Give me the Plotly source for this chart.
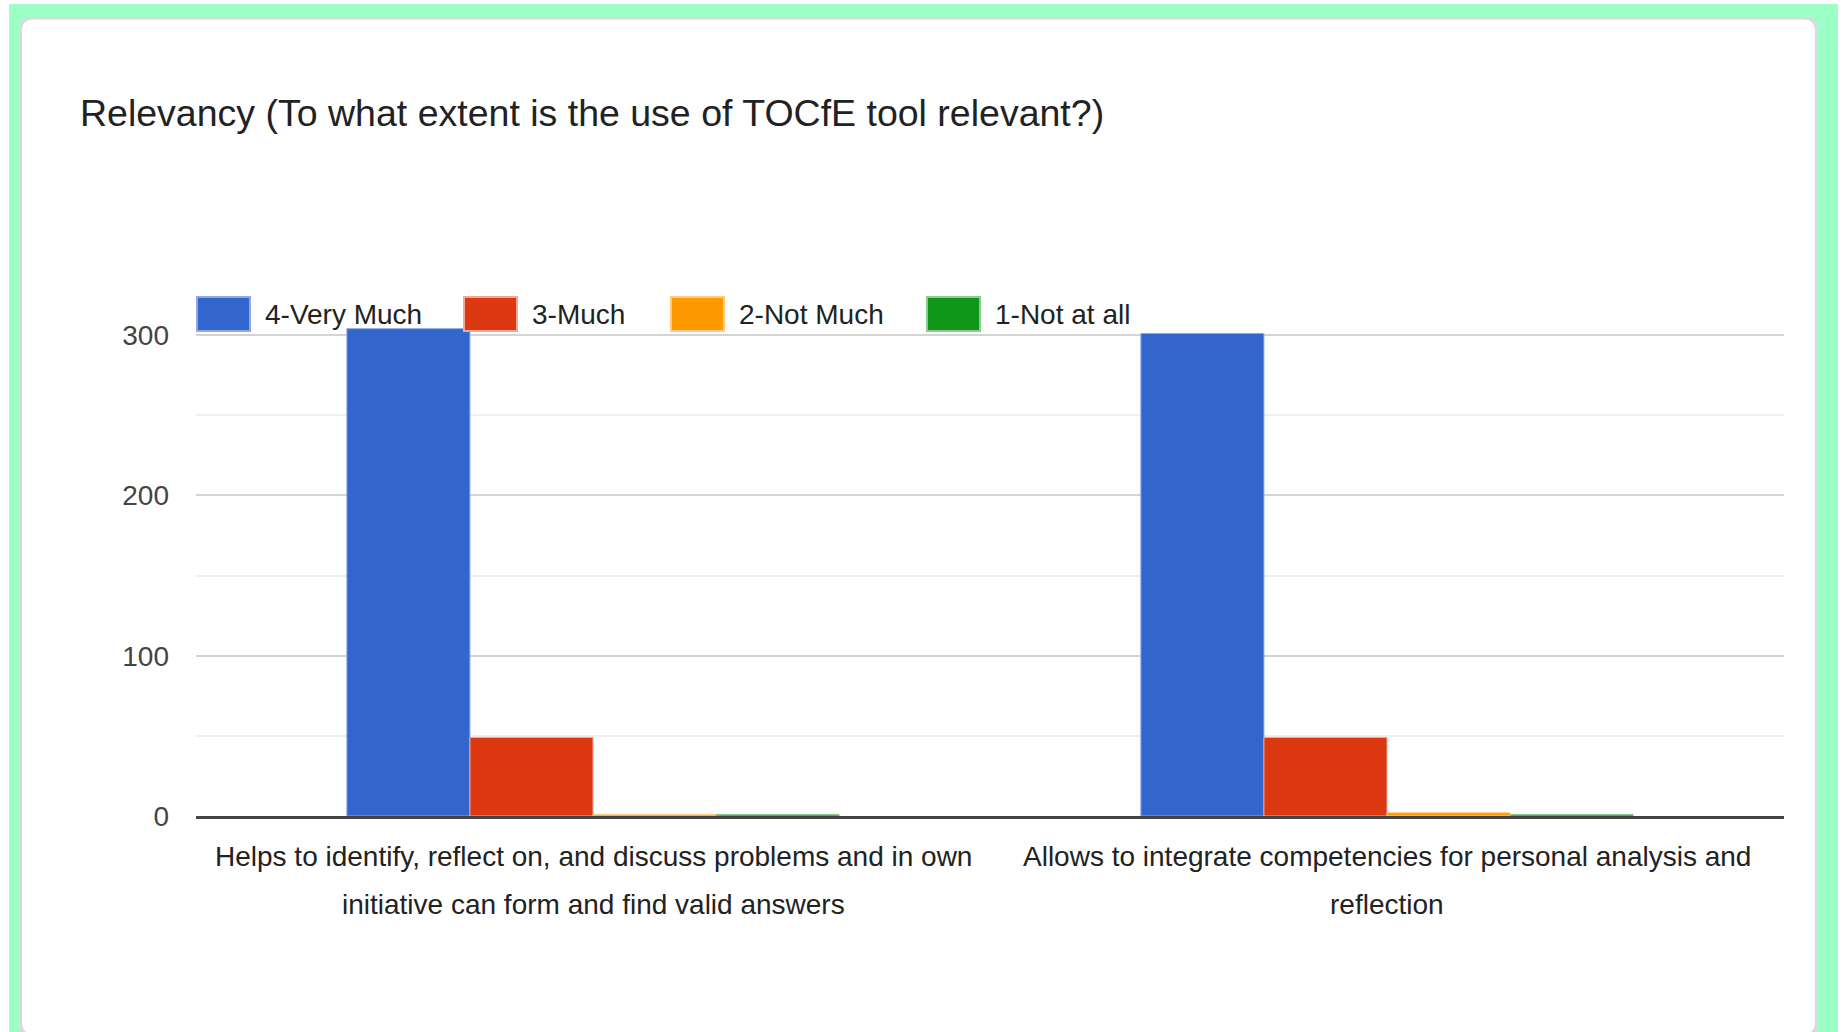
import plotly.graph_objects as go

# Survey results: relevancy of the TOCfE tool
categories = [
    "Helps to identify, reflect on, and discuss problems and in own<br>initiative can form and find valid answers",
    "Allows to integrate competencies for personal analysis and<br>reflection",
]
series_names = ["4-Very Much", "3-Much", "2-Not Much", "1-Not at all"]
very_much = [304, 301]
much = [49, 49]
not_much = [1, 2]
not_at_all = [1, 1]
y_ticks = [0, 100, 200, 300]

series_values = [very_much, much, not_much, not_at_all]
colors = ["#3366CC", "#DC3912", "#FF9900", "#109618"]
edge_colors = ["#8FA9E2", "#F0A796", "#FFCB80", "#8CCB90"]

W, H = 1842, 1032
ML, MR, MT, MB = 196, 58, 303, 216
PW, PH = W - ML - MR, H - MT - MB
FONT = "Liberation Sans, Arial, sans-serif"


def px(x):
    return (x - ML) / PW


def py(y):
    return (H - MB - y) / PH


fig = go.Figure()
for name, vals, c, ec in zip(series_names, series_values, colors, edge_colors):
    fig.add_trace(go.Bar(
        name=name, x=categories, y=vals,
        marker=dict(color=c, line=dict(color=ec, width=1)),
        showlegend=False, hoverinfo="y+name",
    ))


def rounded_path(x0, y0, x1, y1, r):
    pts = [
        ("M", px(x0 + r), py(y0)),
        ("L", px(x1 - r), py(y0)),
        ("Q", px(x1), py(y0), px(x1), py(y0 + r)),
        ("L", px(x1), py(y1 - r)),
        ("Q", px(x1), py(y1), px(x1 - r), py(y1)),
        ("L", px(x0 + r), py(y1)),
        ("Q", px(x0), py(y1), px(x0), py(y1 - r)),
        ("L", px(x0), py(y0 + r)),
        ("Q", px(x0), py(y0), px(x0 + r), py(y0)),
    ]
    s = ""
    for p in pts:
        cmd, coords = p[0], p[1:]
        s += cmd + " ".join(
            f"{coords[i]:.5f},{coords[i + 1]:.5f}" for i in range(0, len(coords), 2)
        ) + " "
    return s + "Z"


shapes = [
    # mint frame
    dict(type="rect", xref="paper", yref="paper", layer="below",
         x0=px(9), x1=px(1838), y0=py(4), y1=py(1040),
         fillcolor="#9BFFC6", line=dict(width=0)),
    # card shadow
    dict(type="path", xref="paper", yref="paper", layer="below",
         path=rounded_path(19, 17, 1818, 1040, 13),
         fillcolor="#D9D9DE", line=dict(width=0)),
    # white card
    dict(type="path", xref="paper", yref="paper", layer="below",
         path=rounded_path(22, 19.5, 1815, 1034, 12),
         fillcolor="#FFFFFF", line=dict(width=0)),
]

annotations = [
    dict(text="Relevancy (To what extent is the use of TOCfE tool relevant?)",
         xref="paper", yref="paper", x=px(78), y=py(113),
         xanchor="left", yanchor="middle", showarrow=False,
         font=dict(family=FONT, size=37.5, color="#222222")),
]

# legend row drawn across the top of the plot
legend_x = [197, 464, 671, 927]
for name, c, ec, lx in zip(series_names, colors, edge_colors, legend_x):
    shapes.append(dict(type="rect", xref="paper", yref="paper", layer="above",
                       x0=px(lx), x1=px(lx + 53), y0=py(297), y1=py(331),
                       fillcolor=c, line=dict(color=ec, width=2)))
    annotations.append(dict(text=name, xref="paper", yref="paper",
                            x=px(lx + 66), y=py(314), xanchor="left",
                            yanchor="middle", showarrow=False,
                            font=dict(family=FONT, size=28, color="#222222")))

# category labels, one line at a time, centred on each category
for cat in categories:
    for i, line in enumerate(cat.split("<br>")):
        annotations.append(dict(text=line, xref="x", yref="paper", x=cat,
                                y=py(856 + 48.5 * i), xanchor="center",
                                yanchor="middle", showarrow=False,
                                font=dict(family=FONT, size=28, color="#222222")))

fig.update_layout(
    width=W, height=H,
    margin=dict(l=ML, r=MR, t=MT, b=MB, autoexpand=False),
    paper_bgcolor="#FFFFFF", plot_bgcolor="#FFFFFF",
    barmode="group", bargap=0.38, bargroupgap=0,
    shapes=shapes, annotations=annotations,
    showlegend=False,
    font=dict(family=FONT, size=28, color="#222222"),
    xaxis=dict(
        showline=True, linecolor="#444444", linewidth=3,
        showgrid=False, ticks="", showticklabels=False,
        automargin=False, tickangle=0,
    ),
    yaxis=dict(
        range=[0, 320], tickvals=y_ticks, showline=False, zeroline=False,
        gridcolor="#D4D4D4", gridwidth=2, ticks="", ticklabelstandoff=26,
        automargin=False,
        tickfont=dict(family=FONT, size=28, color="#444444"),
        minor=dict(dtick=50, tick0=0, showgrid=True, gridcolor="#EFEFEF", gridwidth=2),
    ),
)

fig.write_html("out.html")
